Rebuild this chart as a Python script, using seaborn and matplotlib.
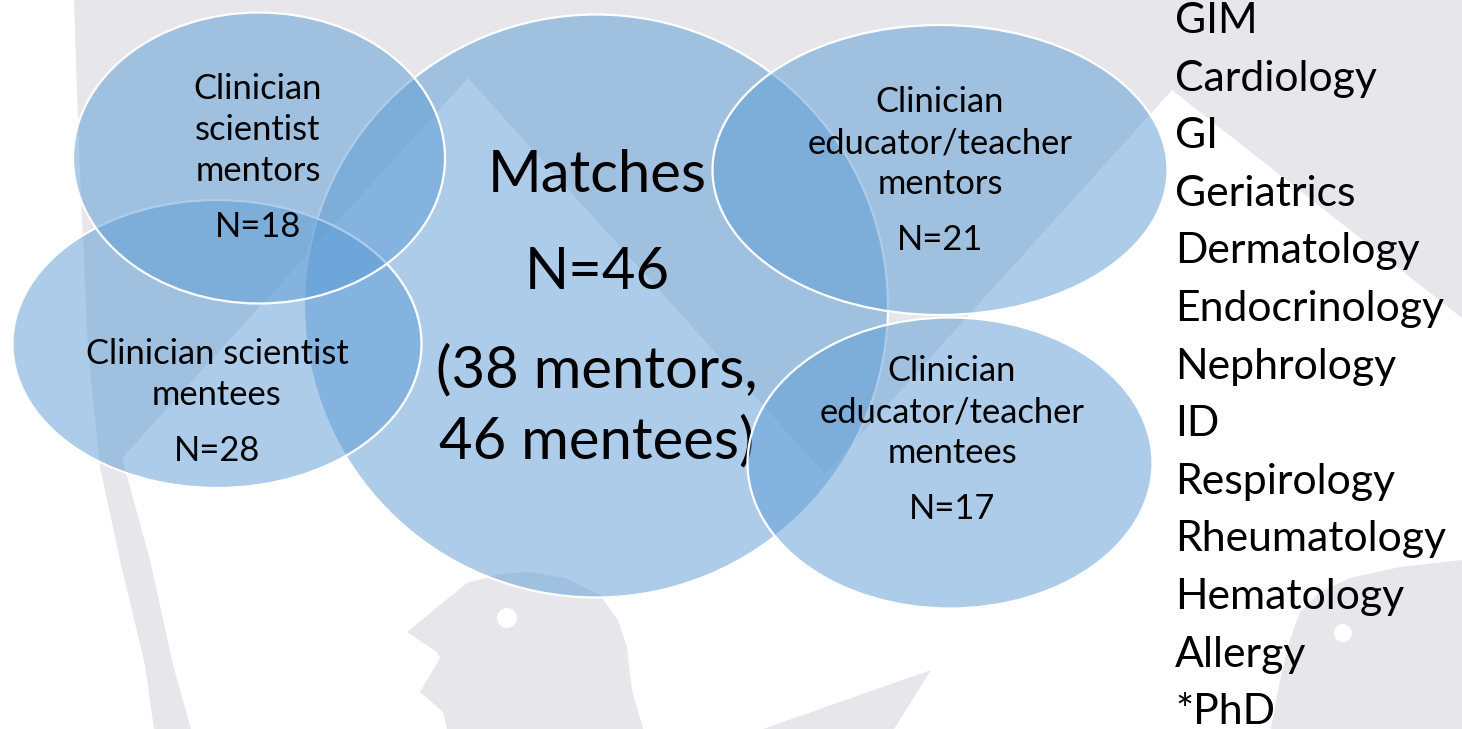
import matplotlib
matplotlib.use("Agg")
import matplotlib.pyplot as plt
from matplotlib.patches import Ellipse, Polygon, Circle
import seaborn as sns

# ==========================
# Data
# ==========================

group_labels = [
    ["Clinician", "scientist", "mentors"],
    ["Clinician scientist", "mentees"],
    ["Clinician", "educator/teacher", "mentors"],
    ["Clinician", "educator/teacher", "mentees"],
]
group_counts = [18, 28, 21, 17]

match_title = "Matches"
match_count = 46
match_mentors = 38
match_mentees = 46

specialties = [
    "GIM", "Cardiology", "GI", "Geriatrics", "Dermatology", "Endocrinology",
    "Nephrology", "ID", "Respirology", "Rheumatology", "Hematology",
    "Allergy", "*PhD",
]

# ==========================
# Layout (pixels, y down)
# ==========================

W, H = 1462, 729
# centre x, centre y, width, height, zorder
group_shapes = [
    (259, 158, 372, 291, 5),
    (217, 344, 409, 288, 4),
    (940, 170, 455, 290, 4),
    (950, 463, 405, 291, 5),
]
group_text_x = [258, 217, 940, 952]
group_first_baseline = [99, 364, 112, 381]
line_gap = 41
count_gap = 56

big_shape = (596, 306, 584, 583)

fill = sns.color_palette(["#5b9bd5"])[0]
gray = "#e6e6eb"
ink = "black"

# ==========================
# Figure
# ==========================

sns.set_theme(style="white")
plt.rcParams["font.family"] = ["Lato", "DejaVu Sans"]

fig = plt.figure(figsize=(W / 100, H / 100), dpi=100)
ax = fig.add_axes([0, 0, 1, 1])
ax.set_xlim(0, W)
ax.set_ylim(H, 0)
ax.axis("off")

# faint watermark in the background
ax.add_patch(Polygon(
    [(74, 0), (1462, 0), (1462, 318), (1172, 90), (825, 474), (468, 78),
     (122, 458), (150, 560), (173, 665), (191, 729), (154, 729),
     (145, 665), (120, 560), (100, 467), (88, 350), (79, 150)],
    closed=True, facecolor=gray, edgecolor="none", zorder=0))
ax.add_patch(Polygon(
    [(447, 729), (443, 712), (420, 692), (440, 658), (437, 652), (407, 632),
     (440, 605), (467, 583), (500, 574), (530, 572), (565, 578), (600, 595),
     (618, 620), (627, 648), (632, 690), (643, 729)],
    closed=True, facecolor=gray, edgecolor="none", zorder=0))
ax.add_patch(Circle((507, 618), 10, facecolor="white", edgecolor="none", zorder=0.5))
ax.add_patch(Polygon([(763, 729), (931, 670), (894, 729)],
                     closed=True, facecolor=gray, edgecolor="none", zorder=0))
ax.add_patch(Polygon(
    [(1271, 729), (1280, 680), (1290, 640), (1300, 612), (1320, 592),
     (1350, 578), (1400, 567), (1462, 560), (1462, 729)],
    closed=True, facecolor=gray, edgecolor="none", zorder=0))
ax.add_patch(Circle((1343, 633), 9, facecolor="white", edgecolor="none", zorder=0.5))

# big matches circle
bx, by, bw, bh = big_shape
ax.add_patch(Ellipse((bx, by), bw, bh, facecolor=(*fill, 0.5),
                     edgecolor="white", linewidth=1.6, zorder=2))
big_lines = [
    (192, match_title),
    (289, f"N={match_count}"),
    (387, f"({match_mentors} mentors,"),
    (458, f"{match_mentees} mentees)"),
]
for y, line in big_lines:
    ax.text(597, y, line, fontsize=41.8, color=ink, ha="center",
            va="baseline", zorder=3)

# the four group ellipses
for lines, n, shape, tx, y0 in zip(group_labels, group_counts, group_shapes,
                                    group_text_x, group_first_baseline):
    cx, cy, w, h, z = shape
    ax.add_patch(Ellipse((cx, cy), w, h, facecolor=(*fill, 0.5),
                         edgecolor="white", linewidth=1.6, zorder=z))
    for i, line in enumerate(lines):
        ax.text(tx, y0 + i * line_gap, line, fontsize=24.8, color=ink,
                ha="center", va="baseline", zorder=10)
    ax.text(tx, y0 + (len(lines) - 1) * line_gap + count_gap, f"N={n}",
            fontsize=24.8, color=ink, ha="center", va="baseline", zorder=10)

# specialty list on the right
for i, name in enumerate(specialties):
    ax.text(1175, 33 + i * 57.6, name, fontsize=30.8, color=ink, ha="left",
            va="baseline", zorder=10)

fig.savefig("out.png", dpi=100, facecolor="white")
plt.close(fig)
